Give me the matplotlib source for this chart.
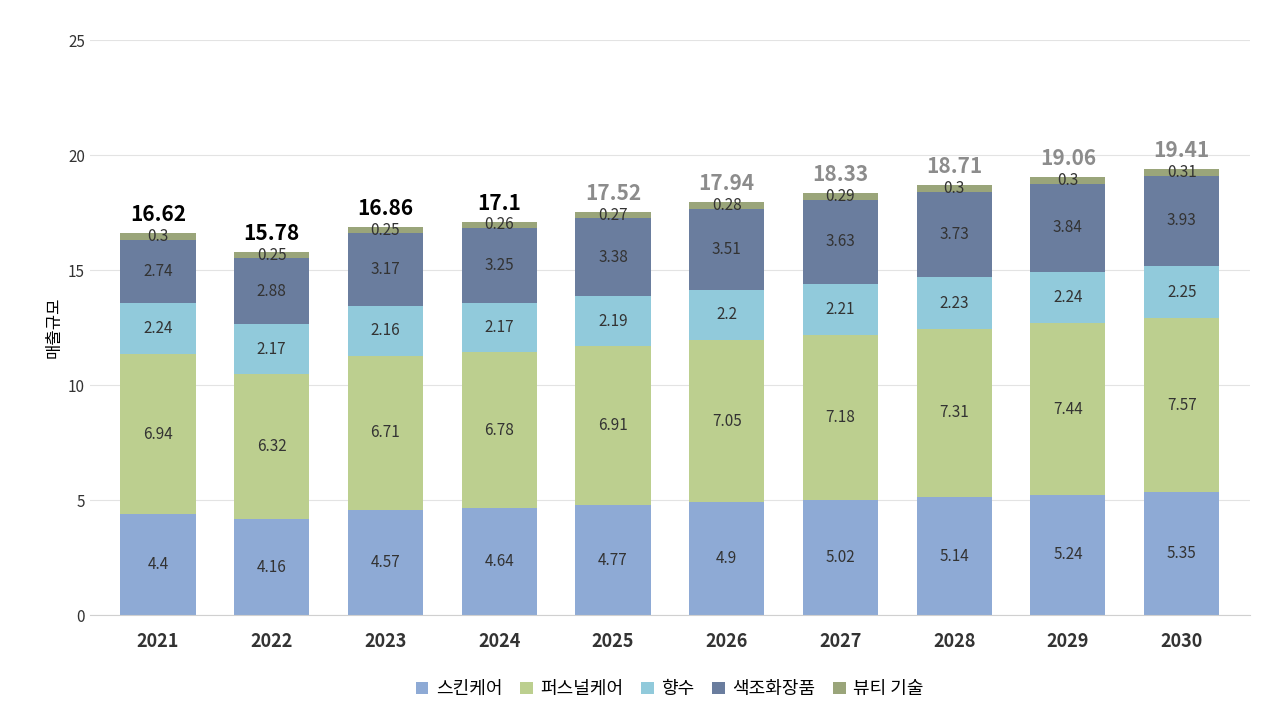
import numpy as np
import matplotlib.pyplot as plt

plt.rcParams['font.family'] = ['Noto Sans CJK KR', 'DejaVu Sans']

years = ['2021', '2022', '2023', '2024', '2025', '2026', '2027', '2028', '2029', '2030']
skin = [4.4, 4.16, 4.57, 4.64, 4.77, 4.9, 5.02, 5.14, 5.24, 5.35]
personal = [6.94, 6.32, 6.71, 6.78, 6.91, 7.05, 7.18, 7.31, 7.44, 7.57]
perfume = [2.24, 2.17, 2.16, 2.17, 2.19, 2.2, 2.21, 2.23, 2.24, 2.25]
makeup = [2.74, 2.88, 3.17, 3.25, 3.38, 3.51, 3.63, 3.73, 3.84, 3.93]
beauty = [0.3, 0.25, 0.25, 0.26, 0.27, 0.28, 0.29, 0.3, 0.3, 0.31]
totals = [16.62, 15.78, 16.86, 17.1, 17.52, 17.94, 18.33, 18.71, 19.06, 19.41]

series = [('스킨케어', skin, '#8eaad5'), ('퍼스널케어', personal, '#bccf8f'),
          ('향수', perfume, '#91cadb'), ('색조화장품', makeup, '#6a7d9e'),
          ('뷰티 기술', beauty, '#9aa57a')]

fig = plt.figure(figsize=(12.82, 7.28), dpi=100)
ax = fig.add_axes([0.07, 0.155, 0.905, 0.79])
x = np.arange(len(years))
bottom = np.zeros(len(years))
for name, vals, col in series:
    vals = np.array(vals)
    ax.bar(x, vals, 0.66, bottom=bottom, color=col, label=name, zorder=2)
    for xi, b, v in zip(x, bottom, vals):
        ax.text(xi, b + v / 2, f'{v:g}', ha='center', va='center', fontsize=11, color='#333333')
    bottom += vals

for i, t in enumerate(totals):
    col = 'black' if i < 4 else '#8c8c8c'
    ax.text(x[i], t + 0.35, f'{t:g}', ha='center', va='bottom', fontsize=15,
            fontweight='bold', color=col)

ax.set_ylim(0, 25)
ax.set_xlim(-0.6, 9.6)
ax.set_yticks([0, 5, 10, 15, 20, 25])
ax.grid(axis='y', color='#e3e3e3', zorder=0)
for s in ax.spines.values():
    s.set_visible(False)
ax.spines['bottom'].set_visible(True)
ax.spines['bottom'].set_color('#d0d0d0')
ax.tick_params(length=0, labelsize=11, colors='#333333')
ax.set_xticks(x)
ax.set_xticklabels(years, fontsize=13, fontweight='bold')
ax.tick_params(axis='x', pad=12)
ax.set_ylabel('매출규모', fontsize=12)
ax.legend(loc='upper center', bbox_to_anchor=(0.5, -0.085), ncol=5, frameon=False,
          fontsize=13, handlelength=0.7, handleheight=0.7, columnspacing=1.0, handletextpad=0.4)
fig.savefig('out.png')
